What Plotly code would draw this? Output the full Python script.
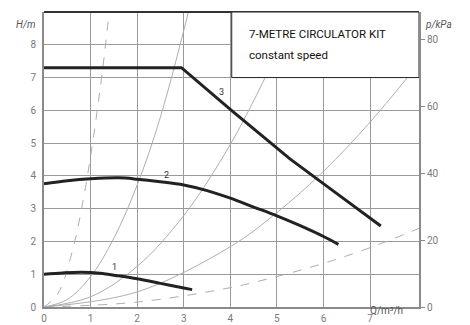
import plotly.graph_objects as go

# Pump curves (Q in m3/h, H in m)
q1 = [0, 0.4, 0.8, 1.2, 1.6, 2.0, 2.5, 3.0, 3.18]
h1 = [1.0, 1.04, 1.06, 1.03, 0.95, 0.86, 0.72, 0.58, 0.53]
q2 = [0, 0.5, 1.0, 1.6, 2.0, 2.5, 3.0, 3.5, 4.0, 4.5, 5.0, 5.5, 6.0, 6.32]
h2 = [3.76, 3.85, 3.91, 3.94, 3.90, 3.82, 3.72, 3.55, 3.32, 3.05, 2.78, 2.48, 2.15, 1.91]
q3 = [0, 2.95, 4.03, 5.28, 6.2, 7.23]
h3 = [7.3, 7.3, 5.99, 4.52, 3.55, 2.47]

# System (resistance) curves
sA_q = [0, 0.3, 0.6, 0.9, 1.2, 1.4]
sA_h = [0, 0.41, 1.66, 3.73, 6.6, 9.0]
sB_q = [0, 0.5, 1.0, 1.5, 2.0, 2.5, 3.1]
sB_h = [0, 0.23, 0.93, 2.1, 3.72, 5.8, 9.0]
sC_q = [0, 1.0, 2.0, 3.0, 4.0, 4.8]
sC_h = [0, 0.31, 1.24, 2.79, 4.96, 7.15]
sD_q = [0, 2.0, 4.0, 5.0, 6.0, 7.0, 7.8]
sD_h = [0, 0.46, 1.84, 2.88, 4.14, 5.64, 7.0]
sE_q = [0, 2.0, 4.0, 5.0, 6.0, 7.0, 8.05]
sE_h = [0, 0.15, 0.59, 0.93, 1.33, 1.81, 2.4]

x_ticks = [0, 1, 2, 3, 4, 5, 6, 7]
y_ticks = [0, 1, 2, 3, 4, 5, 6, 7, 8]
p_ticks = [0, 20, 40, 60, 80]
X_MAX = 8.05
Y_MAX = 9

FONT = "Liberation Sans Narrow, Arial Narrow, Roboto, sans-serif"
sys_col = "#aeaeae"
grid_col = "#9a9a9a"
fig = go.Figure()

for qs, hs, dash in [(sA_q, sA_h, "dash"), (sB_q, sB_h, "solid"), (sC_q, sC_h, "solid"),
                     (sD_q, sD_h, "solid"), (sE_q, sE_h, "dash")]:
    fig.add_trace(go.Scatter(x=qs, y=hs, mode="lines", line=dict(color=sys_col, width=1, dash=dash, shape="spline"),
                             hoverinfo="skip", showlegend=False))
for qs, hs, sh in [(q1, h1, "spline"), (q2, h2, "spline"), (q3, h3, "linear")]:
    fig.add_trace(go.Scatter(x=qs, y=hs, mode="lines", line=dict(color="#222222", width=3, shape=sh),
                             showlegend=False))
# invisible trace that activates the right-hand pressure axis
fig.add_trace(go.Scatter(x=[0], y=[0], yaxis="y2", mode="markers", marker=dict(opacity=0),
                         showlegend=False, hoverinfo="skip"))

fig.update_layout(
    template="none",
    width=470, height=325,
    margin=dict(l=44, r=51, t=12, b=18),
    paper_bgcolor="white", plot_bgcolor="white",
    font=dict(family=FONT, size=10, color="#7a7a7a"),
    xaxis=dict(range=[0, X_MAX], tickmode="array", tickvals=x_ticks, showgrid=True, gridcolor=grid_col,
               gridwidth=1, zeroline=False, showline=True, linecolor="#8a8a8a", linewidth=2,
               automargin=False, ticks="", ticklabelstandoff=1, tickfont=dict(size=10, color="#7a7a7a")),
    yaxis=dict(range=[0, Y_MAX], tickmode="array", tickvals=y_ticks, showgrid=True, gridcolor=grid_col,
               gridwidth=1, zeroline=False, showline=True, linecolor="#8a8a8a", linewidth=2,
               automargin=False, ticks="", ticklabelstandoff=4, tickfont=dict(size=10, color="#7a7a7a")),
    yaxis2=dict(range=[0, Y_MAX * 9.81], tickmode="array", tickvals=p_ticks, overlaying="y", side="right",
                showgrid=False, zeroline=False, showline=True, linecolor="#8a8a8a", linewidth=2,
                automargin=False, ticks="outside", ticklen=4, tickcolor="#8a8a8a",
                tickfont=dict(size=10, color="#7a7a7a")),
)
# top border
fig.add_shape(type="line", xref="paper", yref="paper", x0=0, x1=1, y0=1, y1=1,
              line=dict(color="#333333", width=2))
# title box
fig.add_shape(type="rect", xref="x", yref="y", x0=4.03, x1=X_MAX, y0=7.0, y1=Y_MAX,
              fillcolor="white", line=dict(color="#222222", width=1), layer="above")
fig.add_annotation(x=4.35, y=8.33, xref="x", yref="y", text="7-METRE CIRCULATOR KIT", showarrow=False,
                   xanchor="left", font=dict(family=FONT, size=11.5, color="#111111"))
fig.add_annotation(x=4.35, y=7.69, xref="x", yref="y", text="constant speed", showarrow=False,
                   xanchor="left", font=dict(family=FONT, size=11.5, color="#111111"))
# curve labels
for t, x, y in [("1", 1.52, 1.23), ("2", 2.63, 4.04), ("3", 3.8, 6.57)]:
    fig.add_annotation(x=x, y=y, xref="x", yref="y", text=t, showarrow=False,
                       font=dict(family=FONT, size=9, color="#333333"))
# axis titles
fig.add_annotation(x=-0.019, y=0.983, xref="paper", yref="paper", text="<i>H/m</i>", showarrow=False,
                   xanchor="right", font=dict(family=FONT, size=10, color="#555555"))
fig.add_annotation(x=1.01, y=0.983, xref="paper", yref="paper", text="<i>p/kPa</i>", showarrow=False,
                   xanchor="left", font=dict(family=FONT, size=10, color="#555555"))
fig.add_annotation(x=0.962, y=-0.037, xref="paper", yref="paper", text="Q/m³/h", showarrow=False,
                   font=dict(family=FONT, size=10, color="#555555"))

fig.write_html("out.html", config={"displayModeBar": False},
               post_script="document.body.style.margin='0px';")
